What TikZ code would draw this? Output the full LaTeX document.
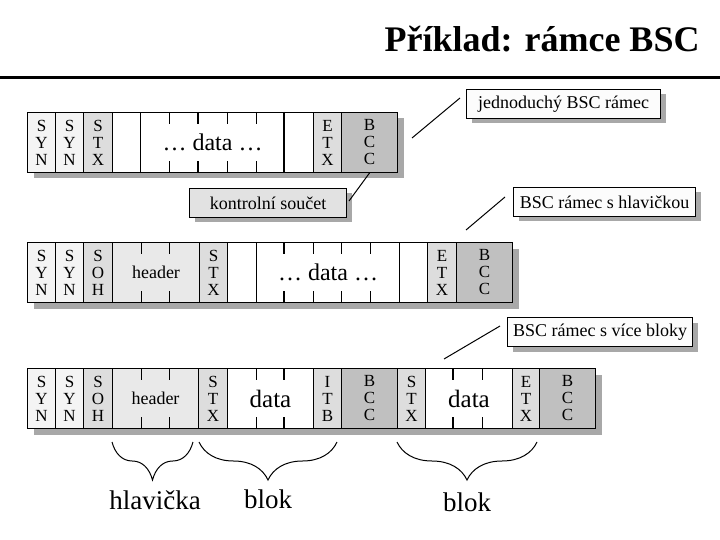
\documentclass[tikz,border=0pt]{standalone}
\usepackage{fontspec}
\setmainfont{Liberation Serif}
\usetikzlibrary{positioning,shadows,decorations.pathreplacing}
\definecolor{syncol}{HTML}{F4F4F4}
\definecolor{ctrlcol}{HTML}{DDDDDD}
\definecolor{headcol}{HTML}{E9E9E9}
\definecolor{bcccol}{HTML}{C0C0C0}
\definecolor{shadecol}{HTML}{A8A8A8}
\definecolor{notecol}{HTML}{FCFCFC}
\definecolor{sumcol}{HTML}{E2E2E2}

\begin{document}
\begin{tikzpicture}[x=1pt,y=-1pt,line width=1pt,
  cell node/.style={draw,rectangle,anchor=north west,inner sep=0pt,minimum height=60pt,align=center,font=\fontsize{17}{17}\selectfont},
  syn node/.style={cell node,fill=syncol},
  ctrl node/.style={cell node,fill=ctrlcol},
  head node/.style={cell node,fill=headcol,font=\fontsize{18}{18}\selectfont},
  bcc node/.style={cell node,fill=bcccol},
  data node/.style={cell node,fill=white,font=\fontsize{24}{24}\selectfont},
  frame node/.style={draw,rectangle,anchor=north west,inner sep=0pt,minimum height=60pt,fill=white,drop shadow={shadow xshift=6pt,shadow yshift=-6pt,fill=shadecol,opacity=1}},
  note node/.style={draw,rectangle,anchor=north west,inner sep=0pt,minimum height=29pt,fill=notecol,font=\fontsize{18}{18}\selectfont,drop shadow={shadow xshift=5pt,shadow yshift=-5pt,fill=shadecol,opacity=1}},
  brace/.style={decorate,decoration={brace,mirror,amplitude=38pt}},
  label node/.style={anchor=base,font=\fontsize{27}{27}\selectfont}]
\useasboundingbox (0,0) rectangle (720,540);

% title
\node[anchor=base east,inner sep=0pt,font=\fontsize{36}{36}\selectfont\bfseries] (title) at (700,52) {Příklad: rámce BSC};
\draw[line width=3pt] (0,78) -- (720,78);

% simple frame
\node[frame node,minimum width=370pt] (f1) at (27,112) {};
\node[syn node,minimum width=28pt] (a1) at (27,112) {S\\Y\\N};
\node[syn node,minimum width=28pt] (a2) at (55,112) {S\\Y\\N};
\node[ctrl node,minimum width=29pt] (a3) at (83,112) {S\\T\\X};
\node[cell node,minimum width=28pt] (a4) at (112,112) {};
\node[data node,minimum width=144pt] (a5) at (140,112) {… data …};
\node[cell node,minimum width=29pt] (a6) at (284,112) {};
\node[ctrl node,minimum width=28pt] (a7) at (313,112) {E\\T\\X};
\node[bcc node,minimum width=56pt] (a8) at (341,112) {B\\C\\C};
\draw[line width=2pt] (a6.north west) -- (a6.south west);
\foreach \dx/\w in {29/1,58/2.2,87/1,116/1}{
  \draw[line width=\w pt] (a5.north west) ++(\dx,0) -- ++(0,12);
  \draw[line width=\w pt] (a5.south west) ++(\dx,0) -- ++(0,-12);
}

% frame with header
\node[frame node,minimum width=485pt] (f2) at (27,242) {};
\node[syn node,minimum width=28pt] (b1) at (27,242) {S\\Y\\N};
\node[syn node,minimum width=28pt] (b2) at (55,242) {S\\Y\\N};
\node[ctrl node,minimum width=29pt] (b3) at (83,242) {S\\O\\H};
\node[head node,minimum width=87pt] (b4) at (112,242) {header};
\node[ctrl node,minimum width=28pt] (b5) at (199,242) {S\\T\\X};
\node[cell node,minimum width=29pt] (b6) at (227,242) {};
\node[data node,minimum width=143pt] (b7) at (256,242) {… data …};
\node[cell node,minimum width=28pt] (b8) at (399,242) {};
\node[ctrl node,minimum width=29pt] (b9) at (427,242) {E\\T\\X};
\node[bcc node,minimum width=56pt] (b10) at (456,242) {B\\C\\C};
\foreach \dx in {29,57}{
  \draw (b4.north west) ++(\dx,0) -- ++(0,12);
  \draw (b4.south west) ++(\dx,0) -- ++(0,-12);
}
\foreach \dx/\w in {28/2.2,57/1,85/1,114/1}{
  \draw[line width=\w pt] (b7.north west) ++(\dx,0) -- ++(0,12);
  \draw[line width=\w pt] (b7.south west) ++(\dx,0) -- ++(0,-12);
}

% frame with more blocks
\node[frame node,minimum width=568pt] (f3) at (27,368) {};
\node[syn node,minimum width=28pt] (c1) at (27,368) {S\\Y\\N};
\node[syn node,minimum width=28pt] (c2) at (55,368) {S\\Y\\N};
\node[ctrl node,minimum width=29pt] (c3) at (83,368) {S\\O\\H};
\node[head node,minimum width=86pt] (c4) at (112,368) {header};
\node[ctrl node,minimum width=29pt] (c5) at (198,368) {S\\T\\X};
\node[data node,minimum width=86pt,font=\fontsize{25}{25}\selectfont] (c6) at (227,368) {data};
\node[ctrl node,minimum width=28pt] (c7) at (313,368) {I\\T\\B};
\node[bcc node,minimum width=56pt] (c8) at (341,368) {B\\C\\C};
\node[ctrl node,minimum width=28pt] (c9) at (397,368) {S\\T\\X};
\node[data node,minimum width=87pt,font=\fontsize{25}{25}\selectfont] (c10) at (425,368) {data};
\node[ctrl node,minimum width=27pt] (c11) at (512,368) {E\\T\\X};
\node[bcc node,minimum width=56pt] (c12) at (539,368) {B\\C\\C};
\foreach \dx in {29,57}{
  \draw (c4.north west) ++(\dx,0) -- ++(0,12);
  \draw (c4.south west) ++(\dx,0) -- ++(0,-12);
}
\foreach \dx/\w in {29/1,57/2.2}{
  \draw[line width=\w pt] (c6.north west) ++(\dx,0) -- ++(0,12);
  \draw[line width=\w pt] (c6.south west) ++(\dx,0) -- ++(0,-12);
}
\foreach \dx/\w in {28/2.2,57/1}{
  \draw[line width=\w pt] (c10.north west) ++(\dx,0) -- ++(0,12);
  \draw[line width=\w pt] (c10.south west) ++(\dx,0) -- ++(0,-12);
}

% notes
\node[note node,minimum width=194pt] (n1) at (466,89) {jednoduchý BSC rámec};
\node[note node,minimum width=157pt,fill=sumcol] (n2) at (189,188) {kontrolní součet};
\node[note node,minimum width=182pt] (n3) at (513,187) {BSC rámec s hlavičkou};
\node[note node,minimum width=185pt] (n4) at (507,317) {BSC rámec s více bloky};
\coordinate (q1) at (460,98);
\coordinate (p1) at (412,138);
\coordinate (q2) at (349,201);
\coordinate (q3) at (505,197);
\coordinate (p3) at (466,230);
\coordinate (q4) at (500,326);
\coordinate (p4) at (444,359);
\draw (q1) -- (p1);
\draw (q2) -- (a8.south);
\draw (q3) -- (p3);
\draw (q4) -- (p4);

% braces
\coordinate (h1) at (112,442);
\coordinate (h2) at (193,442);
\coordinate (k1) at (199,442);
\coordinate (k2) at (337,442);
\coordinate (m1) at (397,442);
\coordinate (m2) at (537,442);
\draw[brace] (h1) -- (h2);
\draw[brace] (k1) -- (k2);
\draw[brace] (m1) -- (m2);
\node[label node] (l1) at (155,509) {hlavička};
\node[label node] (l2) at (268,508) {blok};
\node[label node] (l3) at (467,511) {blok};
\end{tikzpicture}
\end{document}
